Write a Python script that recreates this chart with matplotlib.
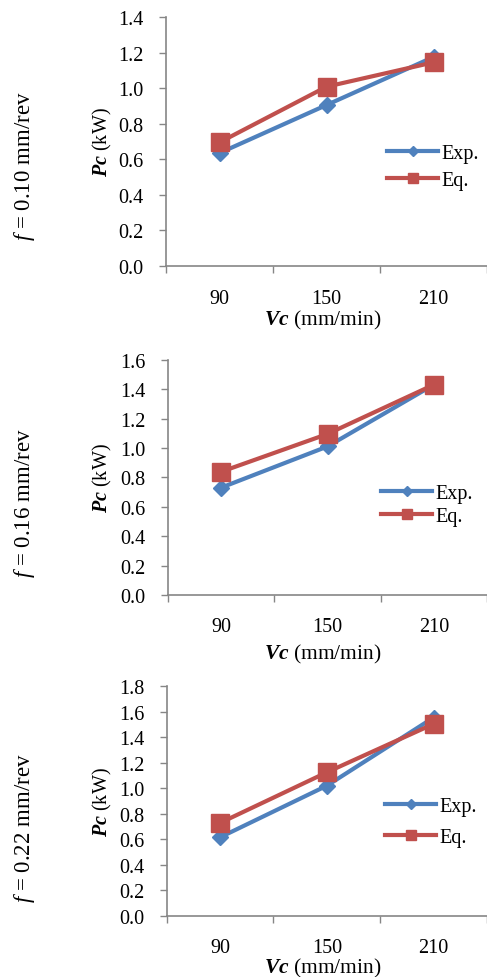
import matplotlib
matplotlib.use("Agg")
import matplotlib.pyplot as plt
from matplotlib.ticker import FixedLocator, FormatStrFormatter

plt.rcParams['font.family'] = ['Liberation Serif', 'DejaVu Serif']
plt.rcParams['mathtext.fontset'] = 'custom'
plt.rcParams['mathtext.rm'] = 'Liberation Serif'
plt.rcParams['mathtext.it'] = 'Liberation Serif:italic'
plt.rcParams['mathtext.bf'] = 'Liberation Serif:italic:bold'

categories = ['90', '150', '210']
feed_labels = ['0.10', '0.16', '0.22']
exp_vals = [[0.635, 0.905, 1.175],
            [0.73, 1.01, 1.43],
            [0.615, 1.02, 1.555]]
eq_vals = [[0.695, 1.008, 1.145],
           [0.838, 1.095, 1.43],
           [0.728, 1.125, 1.505]]
ymax = [1.4, 1.6, 1.8]

W, H = 487, 978
fig = plt.figure(figsize=(W / 100, H / 100), dpi=100)

# pixel layout: (left, top, bottom)
layout = [(166, 18, 267), (168, 360.7, 596), (166.7, 687.3, 916.7)]
legend_px = [(387, 168, 0.35), (381, 506, 0.2), (385, 823, 0.62)]
ticklabel_y = [300.5, 628, 949]
xlabel_y = [320, 654, 968]
flabel_y = [166, 503, 828]

blue = '#4F81BD'
red = '#C0504D'
axc = '#868686'
fs = 14.5

for i in range(3):
    l, t, b = layout[i]
    ax = fig.add_axes([l / W, 1 - b / H, (W - l) / W, (b - t) / H])
    x = list(range(len(categories)))
    ax.plot(x, exp_vals[i], color=blue, lw=3.0, marker='D', ms=8.5,
            mfc=blue, mec=blue, label='Exp.', zorder=3, clip_on=False)
    ax.plot(x, eq_vals[i], color=red, lw=3.0, marker='s', ms=13,
            mfc=red, mec=red, label='Eq.', zorder=4, clip_on=False)
    ax.set_xlim(-0.5, 2.5)
    ax.set_ylim(0, ymax[i])
    ax.set_yticks([round(0.2 * k, 1) for k in range(int(round(ymax[i] / 0.2)) + 1)])
    ax.yaxis.set_major_formatter(FormatStrFormatter('%.1f'))
    ax.xaxis.set_major_locator(FixedLocator([-0.5, 0.5, 1.5, 2.5]))
    ax.xaxis.set_minor_locator(FixedLocator(x))
    ax.set_xticklabels([])
    ax.set_xticklabels(categories, minor=True)
    ax.tick_params(axis='x', which='major', direction='out', length=5, width=1, color=axc)
    ax.tick_params(axis='x', which='minor', length=0, pad=(ticklabel_y[i] - b - 10) / 1.389,
                   labelsize=fs)
    ax.tick_params(axis='y', direction='out', length=5, width=1, color=axc,
                   pad=11, labelsize=fs)
    for s in ['top', 'right']:
        ax.spines[s].set_visible(False)
    for s in ['left', 'bottom']:
        ax.spines[s].set_color(axc)
        ax.spines[s].set_linewidth(1.2)
    ax.patch.set_alpha(0)

    fig.text(323 / W, 1 - xlabel_y[i] / H, r'$\mathbf{Vc}$ (mm/min)', ha='center', va='center',
             fontsize=15.5)
    fig.text(102 / W, 1 - ((t + b) / 2) / H, r'$\mathbf{Pc}$ (kW)', ha='center', va='center',
             rotation=90, fontsize=fs)
    fig.text(25 / W, 1 - flabel_y[i] / H, r'$\mathit{f}$ = ' + feed_labels[i] + ' mm/rev',
             ha='center', va='center', rotation=90, fontsize=16.5)

    lx, ly, sp = legend_px[i]
    ax.legend(loc='center left', bbox_to_anchor=(lx / W, 1 - ly / H),
              bbox_transform=fig.transFigure, frameon=False, fontsize=fs,
              borderpad=0, borderaxespad=0, handlelength=2.55, handletextpad=0.15,
              labelspacing=sp, markerscale=0.6)

fig.savefig('out.png', dpi=100)
